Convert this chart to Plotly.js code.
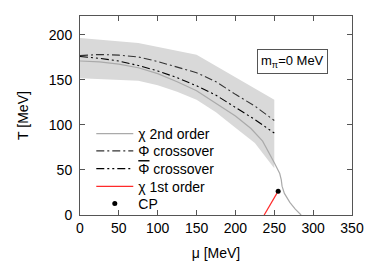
<!DOCTYPE html>
<html>
<head>
<meta charset="utf-8">
<script src="https://cdn.plot.ly/plotly-3.0.1.min.js"></script>
<style>html,body{margin:0;padding:0;background:#fff;}#plot{width:374px;height:262px;}</style>
</head>
<body>
<div id="plot"></div>
<script>
// chi 2nd order line
var chi2Mu = [0, 25, 50, 75, 100, 125, 150, 175, 200, 220, 235, 250, 257, 259, 260, 263, 270, 277, 284.5];
var chi2T  = [171, 170, 167.5, 163.5, 157, 148, 138, 124, 110, 96, 82, 58, 46, 39, 32, 24, 14, 6.5, 0];
// Phi crossover
var phiMu = [0, 25, 50, 75, 100, 125, 150, 175, 200, 225, 250];
var phiT  = [177, 178.3, 177.5, 175.5, 170.5, 164.5, 158, 148, 134, 121, 105];
// Phi-bar crossover
var phibMu = [0, 25, 50, 75, 100, 125, 150, 175, 200, 225, 250];
var phibT  = [176, 174, 171, 166, 160, 152.5, 143.5, 133, 119.5, 106, 91];
// chi 1st order line
var chi1Mu = [237, 255];
var chi1T  = [0, 26.5];
// critical point
var cpMu = [255];
var cpT  = [26.5];
// uncertainty band
var bandTopMu = [0, 75, 150, 250];
var bandTopT  = [196.5, 191, 178, 128];
var bandBotMu = [0, 75, 100, 125, 150, 175, 200, 225, 250];
var bandBotT  = [152, 149, 144, 137, 128, 114, 97, 80, 52];

var bandX = bandTopMu.concat(bandBotMu.slice().reverse());
var bandY = bandTopT.concat(bandBotT.slice().reverse());

var traces = [
  {x: bandX, y: bandY, mode: 'lines', fill: 'toself', fillcolor: 'rgb(217,217,217)',
   line: {width: 0, color: 'rgba(0,0,0,0)'}, showlegend: false, hoverinfo: 'skip'},
  {x: chi2Mu, y: chi2T, mode: 'lines', name: 'χ 2nd order', legend: 'legend',
   line: {color: '#aaaaaa', width: 1.2}},
  {x: phiMu, y: phiT, mode: 'lines', name: 'Φ crossover', legend: 'legend2',
   line: {color: '#333333', width: 1.1, dash: '8px,3px,2px,3px'}},
  {x: phibMu, y: phibT, mode: 'lines', name: '<span style="text-decoration:overline">Φ</span> crossover', legend: 'legend3',
   line: {color: '#000000', width: 1.1, dash: '8px,3px,2px,3px,2px,3px'}},
  {x: chi1Mu, y: chi1T, mode: 'lines', name: 'χ 1st order', legend: 'legend4',
   line: {color: '#ff2a2a', width: 1.2}},
  {x: cpMu, y: cpT, mode: 'markers', name: 'CP', legend: 'legend5',
   marker: {color: '#000000', size: 5}}
];

var font = {family: '"Liberation Sans", Arial, sans-serif', size: 14, color: '#000'};
var smallFont = {family: '"Liberation Sans", Arial, sans-serif', size: 13, color: '#000'};

function leg(yc) {
  return {x: 0.0415, y: (215 - yc) / 199, xanchor: 'left', yanchor: 'middle',
          bgcolor: 'rgba(0,0,0,0)', font: font, itemwidth: 37};
}

var layout = {
  width: 374, height: 262,
  margin: {l: 80, r: 22, t: 16, b: 47, pad: 0},
  paper_bgcolor: '#fff', plot_bgcolor: '#fff',
  font: font,
  showlegend: true,
  legend: leg(134), legend2: leg(151.3), legend3: leg(169), legend4: leg(186.7), legend5: leg(204),
  xaxis: {range: [0, 350], tickvals: [0, 50, 100, 150, 200, 250, 300, 350],
          ticks: 'inside', ticklen: 5, tickcolor: '#555', showline: true, linecolor: '#555',
          mirror: 'ticks', showgrid: false, zeroline: false, tickfont: font,
          title: {text: 'μ [MeV]', font: font, standoff: 13}},
  yaxis: {range: [0, 221], tickvals: [0, 50, 100, 150, 200],
          ticks: 'inside', ticklen: 5, tickcolor: '#555', showline: true, linecolor: '#555',
          mirror: 'ticks', showgrid: false, zeroline: false, tickfont: font, ticklabelstandoff: 4,
          title: {text: 'T [MeV]', font: font, standoff: 16}},
  annotations: [{
    xref: 'paper', yref: 'paper', x: 0.783, y: 0.769, xanchor: 'center', yanchor: 'middle',
    text: 'm<sub>π</sub>=0 MeV', showarrow: false, font: smallFont,
    bordercolor: '#555', borderwidth: 1, borderpad: 3, bgcolor: '#fff'
  }]
};

Plotly.newPlot('plot', traces, layout, {displayModeBar: false, staticPlot: true});
</script>
</body>
</html>
